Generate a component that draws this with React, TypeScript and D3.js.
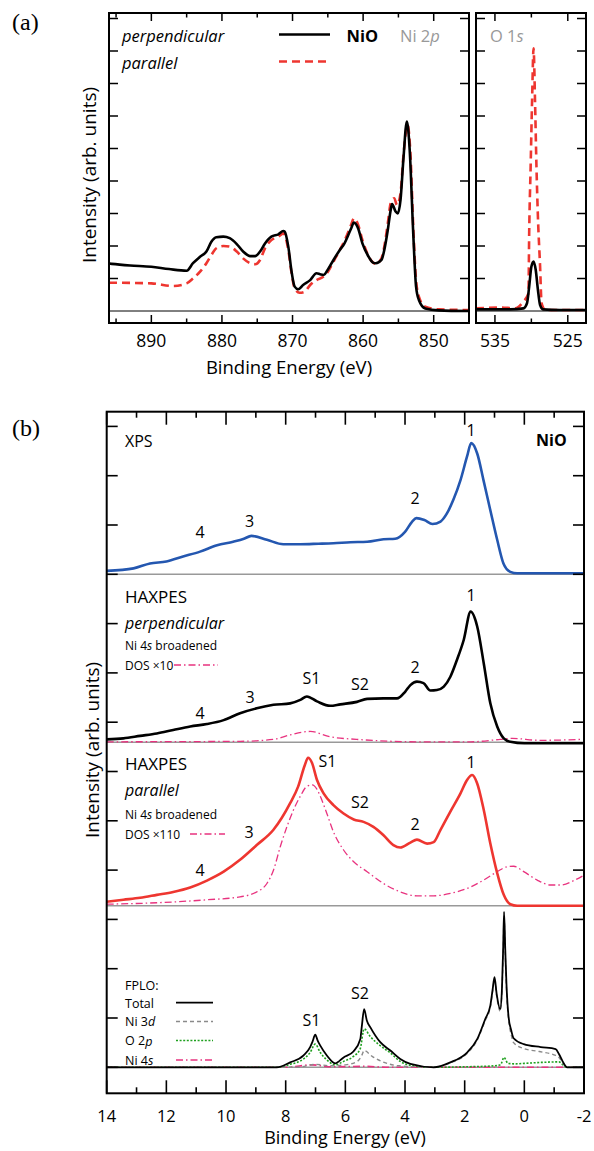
import { useEffect, useRef } from 'react';
import * as d3 from 'd3';

type P = [number, number];

// ---------- (a) Ni 2p / O 1s core levels: [binding energy (eV), intensity] ----------
const ni2pPerp: P[] = [
  [896, 1.46], [895.6, 1.45], [893, 1.4], [890, 1.36], [887.5, 1.29], [885, 1.24], [884.1, 1.47],
  [883.1, 1.67], [882.2, 1.83], [881.5, 2.13], [880.8, 2.27], [879.8, 2.29], [878.9, 2.24],
  [877.9, 2.06], [877, 1.83], [876, 1.69], [875.3, 1.69], [874.6, 1.83], [873.9, 2.08], [873, 2.29],
  [872, 2.36], [871.3, 2.46], [871.1, 2.44], [870.6, 1.98], [870.1, 1.16], [869.7, 0.75],
  [869.2, 0.67], [868.5, 0.8], [867.5, 0.95], [866.6, 1.16], [866.1, 1.13], [865.6, 1.11],
  [864.9, 1.31], [864.2, 1.57], [863.3, 1.88], [862.7, 2.06], [861.7, 2.54], [861.3, 2.72],
  [860.7, 2.54], [860.1, 2.08], [859.3, 1.7], [858.6, 1.49], [858.2, 1.47], [857.4, 1.57],
  [857, 1.88], [856.5, 2.5], [856.1, 3.1], [855.9, 3.29], [855.4, 3.06], [855.1, 3.0],
  [854.7, 3.42], [854.3, 4.65], [853.8, 5.83], [853.4, 4.95], [852.9, 2.39], [852.5, 0.75],
  [852.1, 0.34], [851.2, 0.08], [849.3, 0.02], [845, 0.0],
];
const ni2pPar: P[] = [
  [896, 0.87], [895.6, 0.87], [890, 0.85], [886.9, 0.77], [885, 0.85], [884.1, 1.0], [883.1, 1.21],
  [882.2, 1.47], [881.5, 1.72], [880.8, 1.93], [879.8, 2.0], [878.9, 1.98], [877.9, 1.83],
  [877, 1.62], [876, 1.47], [875.3, 1.44], [874.6, 1.57], [873.9, 1.93], [873, 2.18], [872, 2.29],
  [871.3, 2.39], [870.6, 1.88], [870.1, 1.11], [869.7, 0.7], [869, 0.56], [868.3, 0.59],
  [867.5, 0.8], [866.6, 0.95], [865.6, 1.06], [864.9, 1.24], [864.2, 1.52], [863.3, 1.88],
  [862.7, 2.13], [861.7, 2.65], [861.3, 2.85], [860.7, 2.65], [860.1, 2.18], [859.3, 1.72],
  [858.6, 1.49], [858.2, 1.45], [857.4, 1.62], [857, 1.98], [856.5, 2.7], [856.1, 3.31],
  [855.6, 3.47], [855.2, 3.26], [854.7, 3.62], [854.3, 4.75], [853.7, 5.72], [853.3, 4.85],
  [852.9, 2.6], [852.5, 0.95], [852.1, 0.44], [851.2, 0.13], [849.3, 0.05], [845, 0.03],
];
const o1sPerp: P[] = [
  [537.6, 0.05], [532.9, 0.05], [531.1, 0.08], [530.6, 0.24], [530.3, 0.75], [530.0, 1.36],
  [529.7, 1.52], [529.4, 1.26], [529.1, 0.65], [528.8, 0.18], [528.4, 0.05], [526.1, 0.03],
  [522.5, 0.03],
];
const o1sPar: P[] = [
  [537.6, 0.08], [534.3, 0.11], [532.2, 0.08], [531.1, 0.29], [530.4, 0.54], [530.3, 2.39],
  [530.1, 4.44], [529.9, 6.49], [529.7, 8.08], [529.5, 6.49], [529.3, 4.44], [529.1, 2.9],
  [528.8, 1.36], [528.6, 0.24], [528.1, 0.03], [522.5, 0.03],
];
const ni2pMajor = [890, 880, 870, 860, 850];
const ni2pMinor = [895, 885, 875, 865, 855];
const o1sMajor = [535, 525];
const o1sMinor = [530];

// ---------- (b) valence band: [binding energy (eV), intensity above panel baseline] ----------
const xpsCurve: P[] = [
  [14, 0.07], [13.1, 0.12], [12.55, 0.22], [12, 0.26], [11.44, 0.36], [10.87, 0.46], [10.3, 0.59],
  [9.76, 0.66], [9.4, 0.72], [9.15, 0.78], [8.63, 0.7], [8.08, 0.61], [7.51, 0.61], [6.9, 0.62],
  [6.4, 0.63], [5.83, 0.65], [5.27, 0.66], [4.72, 0.71], [4.33, 0.72], [4.0, 0.86], [3.76, 1.07],
  [3.62, 1.14], [3.35, 1.1], [3.08, 1.02], [2.81, 1.07], [2.59, 1.24], [2.38, 1.51], [2.14, 1.91],
  [1.92, 2.39], [1.78, 2.66], [1.58, 2.45], [1.37, 1.91], [1.14, 1.3], [0.91, 0.7], [0.7, 0.22],
  [0.47, 0.05], [0.24, 0.02], [-2, 0.02],
];
const haxPerp: P[] = [
  [14, 0.06], [13.44, 0.08], [12.88, 0.13], [12.32, 0.18], [11.77, 0.25], [11.2, 0.32],
  [10.64, 0.37], [10.08, 0.45], [9.53, 0.59], [8.97, 0.69], [8.41, 0.76], [7.85, 0.79],
  [7.51, 0.86], [7.29, 0.93], [6.95, 0.83], [6.51, 0.74], [6.17, 0.77], [5.61, 0.82], [5.27, 0.88],
  [4.72, 0.89], [4.27, 0.89], [3.99, 1.03], [3.82, 1.16], [3.6, 1.23], [3.38, 1.2], [3.15, 1.05],
  [2.93, 1.06], [2.7, 1.13], [2.48, 1.33], [2.26, 1.67], [2.03, 2.08], [1.8, 2.65], [1.58, 2.35],
  [1.36, 1.6], [1.14, 0.79], [0.91, 0.32], [0.69, 0.08], [0.47, 0.01], [0, -0.02], [-2, -0.02],
];
const haxPerpDos: P[] = [
  [14, 0.01], [9.53, 0.02], [8.4, 0.06], [7.85, 0.15], [7.18, 0.22], [6.5, 0.11], [5.63, 0.06],
  [4.83, 0.03], [3.5, 0.01], [1.8, 0.01], [0.8, 0.06], [0.4, 0.08], [-0.5, 0.04], [-2, 0.06],
];
const haxPar: P[] = [
  [14, 0.08], [13.44, 0.12], [12.88, 0.16], [12.32, 0.22], [11.77, 0.28], [11.2, 0.37],
  [10.64, 0.51], [10.08, 0.69], [9.53, 0.93], [8.97, 1.23], [8.41, 1.54], [7.85, 2.08],
  [7.58, 2.42], [7.36, 2.85], [7.25, 3.0], [7.12, 2.9], [6.95, 2.55], [6.73, 2.28], [6.4, 2.04],
  [6.06, 1.87], [5.72, 1.75], [5.39, 1.7], [5.06, 1.6], [4.72, 1.43], [4.39, 1.23], [4.16, 1.18],
  [3.82, 1.28], [3.6, 1.34], [3.26, 1.26], [3.04, 1.29], [2.81, 1.54], [2.48, 1.91], [2.14, 2.28],
  [1.92, 2.55], [1.75, 2.65], [1.58, 2.48], [1.36, 1.94], [1.14, 1.26], [0.91, 0.66], [0.69, 0.22],
  [0.47, 0.03], [0.24, 0], [-2, 0],
];
const haxParDos: P[] = [
  [14, 0.03], [12.32, 0.06], [10.64, 0.12], [9.53, 0.18], [8.97, 0.28], [8.63, 0.45], [8.41, 0.72],
  [8.18, 1.2], [7.96, 1.6], [7.74, 1.94], [7.51, 2.22], [7.29, 2.42], [7.11, 2.45], [6.95, 2.36],
  [6.84, 2.22], [6.62, 1.87], [6.4, 1.5], [6.06, 1.13], [5.72, 0.89], [5.27, 0.69], [4.72, 0.45],
  [4.16, 0.28], [3.6, 0.2], [3.04, 0.2], [2.48, 0.25], [1.92, 0.35], [1.36, 0.52], [0.91, 0.69],
  [0.58, 0.79], [0.36, 0.8], [0.02, 0.69], [-0.43, 0.52], [-0.88, 0.42], [-1.21, 0.42],
  [-1.66, 0.51], [-2, 0.62],
];
const fploTotal: P[] = [
  [14, 0], [8.3, 0], [7.85, 0.1], [7.4, 0.24], [7.18, 0.41], [7.1, 0.52], [7.01, 0.66], [6.92, 0.53],
  [6.84, 0.44], [6.62, 0.24], [6.34, 0.08], [6.06, 0.2], [5.73, 0.32], [5.5, 0.57], [5.45, 0.82],
  [5.37, 1.18], [5.28, 0.95], [5.16, 0.81], [4.83, 0.51], [4.49, 0.34], [4.16, 0.17], [3.82, 0.07],
  [3.04, 0], [2.48, 0.1], [1.92, 0.3], [1.58, 0.57], [1.31, 0.98], [1.14, 1.25], [1.06, 1.59],
  [1.0, 1.83], [0.93, 1.5], [0.81, 1.18], [0.75, 1.6], [0.71, 2.4], [0.68, 3.15], [0.64, 2.4],
  [0.6, 1.7], [0.53, 1.03], [0.44, 0.75], [0.36, 0.59], [0.02, 0.47], [-0.55, 0.41],
  [-1.05, 0.37], [-1.16, 0.27], [-1.33, 0.07], [-1.44, 0], [-2, 0],
];
const fploNi3d: P[] = [
  [14, 0], [7.6, 0], [7.0, 0.06], [6.5, 0.03], [6.0, 0.05], [5.6, 0.12], [5.45, 0.24], [5.37, 0.34],
  [5.1, 0.22], [4.7, 0.1], [4.2, 0.03], [3.04, 0], [2.48, 0.09], [1.92, 0.28], [1.58, 0.55],
  [1.31, 0.95], [1.14, 1.22], [1.06, 1.55], [1.0, 1.78], [0.93, 1.45], [0.81, 1.14], [0.75, 1.55],
  [0.71, 2.3], [0.68, 3.05], [0.64, 2.3], [0.6, 1.6], [0.53, 0.98], [0.44, 0.66], [0.36, 0.5],
  [0.02, 0.38], [-0.5, 0.32], [-1.05, 0.24], [-1.16, 0.2], [-1.33, 0.05], [-1.44, 0], [-2, 0],
];
const fploO2p: P[] = [
  [14, 0], [8.3, 0], [7.85, 0.06], [7.4, 0.17], [7.18, 0.3], [7.01, 0.47], [6.84, 0.3], [6.62, 0.15],
  [6.34, 0.05], [6.06, 0.12], [5.73, 0.22], [5.5, 0.38], [5.37, 0.78], [5.16, 0.62], [4.83, 0.44],
  [4.49, 0.29], [4.16, 0.12], [3.82, 0.04], [3.04, 0], [2.0, 0.01], [1.0, 0.03], [0.8, 0.05],
  [0.68, 0.2], [0.55, 0.08], [0.3, 0.07], [0, 0.08], [-0.6, 0.1], [-1.16, 0.11], [-1.33, 0.03],
  [-1.44, 0], [-2, 0],
];
const fploNi4s: P[] = [
  [14, 0], [8, 0], [7.1, 0.05], [6.5, 0.01], [5.4, 0.02], [4.5, 0], [-2, 0],
];
const vbTicks = [14, 12, 10, 8, 6, 4, 2, 0, -2];
const vbMinor = [13, 11, 9, 7, 5, 3, 1, -1];

const FONT = '"Open Sans", "Noto Sans", sans-serif';
const RED = '#ee3630';
const PINK = '#e8337f';
const BLUE = '#2457b0';

const App = () => {
  const svgRef = useRef<SVGSVGElement>(null);

  useEffect(() => {
    const svg = d3.select(svgRef.current);
    svg.selectAll('*').remove();

    const text = (x: number, y: number, s: string, size: number, opts: any = {}) => {
      const t = svg.append('text')
        .attr('x', x).attr('y', y)
        .attr('dominant-baseline', 'central')
        .attr('text-anchor', opts.anchor || 'start')
        .style('font-family', opts.family || FONT)
        .style('font-size', `${size}px`)
        .style('font-style', opts.italic ? 'italic' : 'normal')
        .style('font-weight', opts.bold ? 'bold' : 'normal')
        .style('fill', opts.fill || '#000')
        .text(s);
      if (opts.rotate) t.attr('transform', `rotate(-90,${x},${y})`);
      return t;
    };

    const curve = (g: any, data: P[], xs: any, ys: any, off: number, stroke: string, width: number, dash?: string) => {
      const ln = d3.line<P>().x(d => xs(d[0])).y(d => ys(d[1] + off)).curve(d3.curveMonotoneX);
      g.append('path').attr('d', ln(data)).attr('fill', 'none')
        .attr('stroke', stroke).attr('stroke-width', width)
        .attr('stroke-linejoin', 'round')
        .attr('stroke-dasharray', dash || null);
    };

    const hline = (x1: number, x2: number, y: number, stroke: string, w: number, dash?: string) =>
      svg.append('line').attr('x1', x1).attr('x2', x2).attr('y1', y).attr('y2', y)
        .attr('stroke', stroke).attr('stroke-width', w).attr('stroke-dasharray', dash || null);

    // ================= (a) =================
    const yA = d3.scaleLinear().domain([0, 9]).range([311, 18.5]);
    const topA = 13, botA = 323;
    const xNi = d3.scaleLinear().domain([896, 845]).range([109, 469]);
    const xO = d3.scaleLinear().domain([537.6, 522.5]).range([476, 586]);

    const frameA = (xs: any, major: number[], minor: number[], id: string) => {
      const [x0, x1] = xs.range();
      svg.append('clipPath').attr('id', id).append('rect')
        .attr('x', x0).attr('y', topA).attr('width', x1 - x0).attr('height', botA - topA);
      // baseline
      hline(x0, x1, yA(0), '#000', 1);
      const tk = svg.append('g').attr('stroke', '#000').attr('stroke-width', 1.5);
      major.concat(minor).forEach(v => {
        const len = major.includes(v) ? 8 : 4.5;
        tk.append('line').attr('x1', xs(v)).attr('x2', xs(v)).attr('y1', botA).attr('y2', botA - len);
        tk.append('line').attr('x1', xs(v)).attr('x2', xs(v)).attr('y1', topA).attr('y2', topA + len);
      });
      d3.range(1, 10).forEach(v => {
        tk.append('line').attr('x1', x0).attr('x2', x0 + 9).attr('y1', yA(v)).attr('y2', yA(v));
        tk.append('line').attr('x1', x1).attr('x2', x1 - 9).attr('y1', yA(v)).attr('y2', yA(v));
      });
      major.forEach(v => text(xs(v), 340, String(v), 17.5, { anchor: 'middle' }));
      return svg.append('g').attr('clip-path', `url(#${id})`);
    };

    const gNi = frameA(xNi, ni2pMajor, ni2pMinor, 'clipNi');
    curve(gNi, ni2pPar, xNi, yA, 0, RED, 2.6, '8,5');
    curve(gNi, ni2pPerp, xNi, yA, 0, '#000', 2.6);
    const gO = frameA(xO, o1sMajor, o1sMinor, 'clipO');
    curve(gO, o1sPar, xO, yA, 0, RED, 2.6, '8,5');
    curve(gO, o1sPerp, xO, yA, 0, '#000', 2.6);

    [xNi, xO].forEach(xs => {
      const [x0, x1] = xs.range();
      svg.append('rect').attr('x', x0).attr('y', topA).attr('width', x1 - x0).attr('height', botA - topA)
        .attr('fill', 'none').attr('stroke', '#000').attr('stroke-width', 2);
    });

    text(12, 22, '(a)', 24, { family: '"Liberation Serif", "DejaVu Serif", serif' });
    text(122, 35, 'perpendicular', 16.5, { italic: true });
    text(122, 62, 'parallel', 16.5, { italic: true });
    hline(279, 330, 34.5, '#000', 2.6);
    hline(279, 330, 61.5, RED, 2.6, '8,5');
    text(346.5, 35, 'NiO', 16.5, { bold: true });
    text(400, 35, 'Ni 2', 16.5, { fill: '#999' }).append('tspan').style('font-style', 'italic').text('p');
    text(490, 35, 'O 1', 16.5, { fill: '#999' }).append('tspan').style('font-style', 'italic').text('s');
    text(289, 366, 'Binding Energy (eV)', 18.5, { anchor: 'middle' });
    text(89, 175, 'Intensity (arb. units)', 19, { anchor: 'middle', rotate: true });

    // ================= (b) =================
    const xB = d3.scaleLinear().domain([14, -2]).range([106.7, 584]);
    const yB = d3.scaleLinear().domain([0, 13]).range([1067.3, 426.4]);
    const topB = 411.7, botB = 1093.3;
    const [bx0, bx1] = xB.range();
    const offXps = 10, offPerp = yB.invert(742.3), offPar = yB.invert(905.7), offFplo = 0;

    svg.append('clipPath').attr('id', 'clipB').append('rect')
      .attr('x', bx0).attr('y', topB).attr('width', bx1 - bx0).attr('height', botB - topB);
    const gB = svg.append('g').attr('clip-path', 'url(#clipB)');

    [offXps, offPerp, offPar, offFplo].forEach(o => {
      gB.append('line').attr('x1', bx0).attr('x2', bx1).attr('y1', yB(o)).attr('y2', yB(o))
        .attr('stroke', '#999').attr('stroke-width', 1.6);
    });

    const dashDot = '7,3,1.5,3';
    curve(gB, xpsCurve, xB, yB, offXps, BLUE, 2.6);
    curve(gB, haxPerpDos, xB, yB, offPerp, PINK, 1.3, dashDot);
    curve(gB, haxPerp, xB, yB, offPerp, '#000', 2.6);
    curve(gB, haxParDos, xB, yB, offPar, PINK, 1.3, dashDot);
    curve(gB, haxPar, xB, yB, offPar, RED, 2.6);
    curve(gB, fploNi4s, xB, yB, offFplo, PINK, 1.6, dashDot);
    curve(gB, fploO2p, xB, yB, offFplo, '#1fa01f', 1.6, '2,1.6');
    curve(gB, fploNi3d, xB, yB, offFplo, '#8a8a8a', 1.4, '4,3');
    curve(gB, fploTotal, xB, yB, offFplo, '#000', 1.8);

    const tkB = svg.append('g').attr('stroke', '#000').attr('stroke-width', 1.6);
    vbTicks.concat(vbMinor).forEach(v => {
      const len = vbTicks.includes(v) ? 13 : 6;
      tkB.append('line').attr('x1', xB(v)).attr('x2', xB(v)).attr('y1', botB).attr('y2', botB - len);
      tkB.append('line').attr('x1', xB(v)).attr('x2', xB(v)).attr('y1', topB).attr('y2', topB + len);
    });
    d3.range(0, 14).forEach(v => {
      tkB.append('line').attr('x1', bx0).attr('x2', bx0 + 11).attr('y1', yB(v)).attr('y2', yB(v));
      tkB.append('line').attr('x1', bx1).attr('x2', bx1 - 11).attr('y1', yB(v)).attr('y2', yB(v));
    });
    svg.append('rect').attr('x', bx0).attr('y', topB).attr('width', bx1 - bx0).attr('height', botB - topB)
      .attr('fill', 'none').attr('stroke', '#000').attr('stroke-width', 2);

    vbTicks.forEach(v => text(xB(v), 1115, String(v), 16.5, { anchor: 'middle' }));
    text(345, 1137, 'Binding Energy (eV)', 18, { anchor: 'middle' });
    text(92, 750, 'Intensity (arb. units)', 19, { anchor: 'middle', rotate: true });
    text(12, 428, '(b)', 24, { family: '"Liberation Serif", "DejaVu Serif", serif' });

    // XPS panel
    text(125, 441, 'XPS', 16, {});
    text(536, 440, 'NiO', 16, { bold: true });
    [['4', 200, 532], ['3', 249.5, 521], ['2', 415, 498], ['1', 471, 430]].forEach(([s, x, y]) =>
      text(x as number, y as number, s as string, 16, { anchor: 'middle' }));

    // HAXPES perpendicular
    text(125, 596, 'HAXPES', 17, {});
    text(125, 623, 'perpendicular', 16, { italic: true });
    const ni4s = (y: number) => {
      const t = text(125, y, 'Ni 4', 12, {});
      t.append('tspan').style('font-style', 'italic').text('s');
      t.append('tspan').text(' broadened');
    };
    ni4s(645);
    text(125, 665, 'DOS \u00d710', 12, {});
    hline(174, 218, 665, PINK, 1.3, dashDot);
    [['4', 200, 713], ['3', 250, 697], ['S1', 311.5, 678], ['S2', 360, 683.5], ['2', 415, 667], ['1', 471, 595]]
      .forEach(([s, x, y]) => text(x as number, y as number, s as string, 16, { anchor: 'middle' }));

    // HAXPES parallel
    text(125, 763, 'HAXPES', 17, {});
    text(125, 790, 'parallel', 16, { italic: true });
    ni4s(814);
    text(125, 834, 'DOS \u00d7110', 12, {});
    hline(190, 225, 834, PINK, 1.3, dashDot);
    [['4', 200, 870], ['3', 249, 832], ['S1', 327.5, 761], ['S2', 360, 802], ['2', 415, 824], ['1', 471, 762]]
      .forEach(([s, x, y]) => text(x as number, y as number, s as string, 16, { anchor: 'middle' }));

    // FPLO
    text(125, 985, 'FPLO:', 12.5, {});
    text(125, 1003, 'Total', 12.5, {});
    const n3 = text(125, 1021, 'Ni 3', 12.5, {});
    n3.append('tspan').style('font-style', 'italic').text('d');
    const o2 = text(125, 1040.5, 'O 2', 12.5, {});
    o2.append('tspan').style('font-style', 'italic').text('p');
    const n4 = text(125, 1060, 'Ni 4', 12.5, {});
    n4.append('tspan').style('font-style', 'italic').text('s');
    hline(176, 213, 1002.7, '#000', 1.8);
    hline(176, 213, 1021.5, '#8a8a8a', 1.4, '4,3');
    hline(176, 213, 1040.5, '#1fa01f', 1.6, '2,1.6');
    hline(176, 213, 1060, PINK, 1.6, dashDot);
    text(311.5, 1020, 'S1', 16, { anchor: 'middle' });
    text(360, 993, 'S2', 16, { anchor: 'middle' });
  }, []);

  return (
    <svg ref={svgRef} width={594} height={1151}
      style={{ position: 'absolute', left: 0, top: 0, background: '#fff' }} />
  );
};

export default App;
